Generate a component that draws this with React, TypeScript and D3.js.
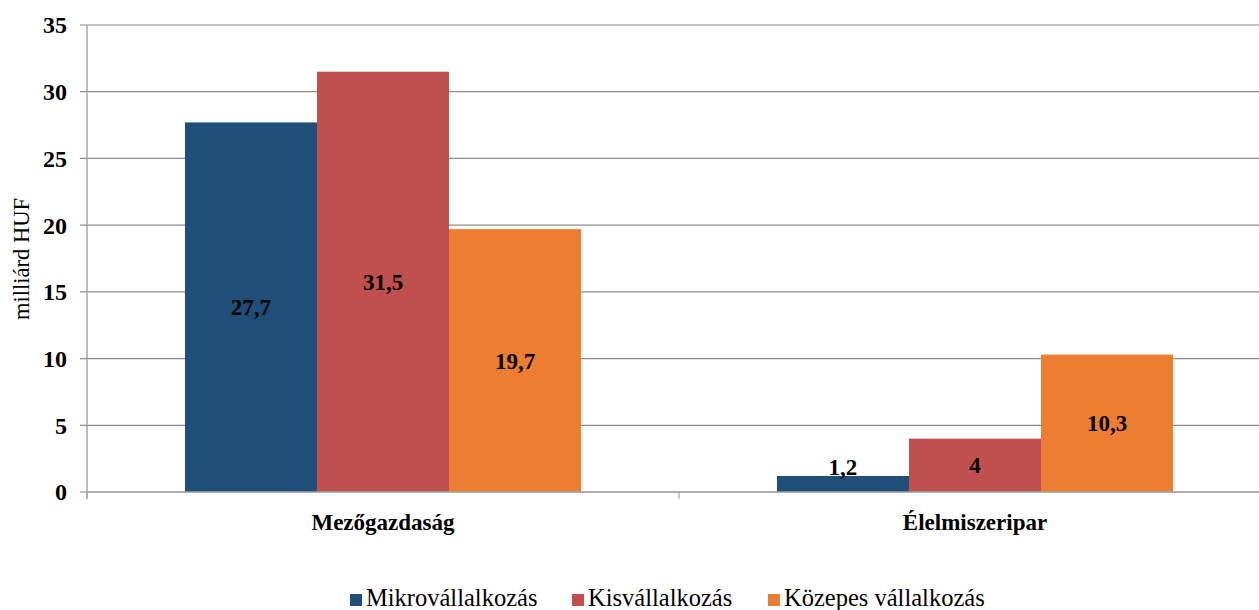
import React from "react";
import * as d3 from "d3";

const categories = ["Mezőgazdaság", "Élelmiszeripar"];
const seriesNames = ["Mikrovállalkozás", "Kisvállalkozás", "Közepes vállalkozás"];
const mikro = [27.7, 1.2];
const kis = [31.5, 4];
const kozepes = [19.7, 10.3];
const yTicks = [0, 5, 10, 15, 20, 25, 30, 35];
const colors = ["#1F4E79", "#C0504D", "#ED7D31"];

const W = 1259, H = 610;
const left = 87, right = 1271, top = 25, bottom = 492;
const FONT = "'Liberation Serif', 'Times New Roman', serif";

export default function App() {
  const values = [mikro, kis, kozepes];
  const x0 = d3.scaleBand<string>().domain(categories).range([left, right]).padding(0);
  const bw = x0.bandwidth();
  const x1 = d3.scaleBand<string>().domain(seriesNames).range([bw * 0.1655, bw * 0.8345]).padding(0);
  const y = d3.scaleLinear().domain([0, 35]).range([bottom, top]);
  const fmt = (v: number) => String(v).replace(".", ",");
  const legendX = [350, 572, 768];

  return (
    <svg width={W} height={H} style={{ position: "absolute", left: 0, top: 0, background: "#fff" }} fontFamily={FONT}>
      {yTicks.map((t) => (
        <g key={t}>
          <line x1={left - 7} x2={right} y1={y(t)} y2={y(t)} stroke="#8c8c8c" strokeWidth={1.2} />
          <text x={67} y={y(t)} dy="0.35em" textAnchor="end" fontSize={24} fontWeight="bold">{t}</text>
        </g>
      ))}
      <line x1={left} x2={left} y1={top} y2={bottom + 7} stroke="#a6a6a6" strokeWidth={1.5} />
      {[left, left + bw, right].map((xx, i) => (
        <line key={i} x1={xx} x2={xx} y1={bottom} y2={bottom + 7} stroke="#a6a6a6" strokeWidth={1.2} />
      ))}
      {categories.map((c, ci) => (
        <g key={c}>
          {seriesNames.map((s, si) => {
            const v = values[si][ci];
            const bx = (x0(c) as number) + (x1(s) as number);
            return (
              <rect key={s} x={bx} y={y(v)} width={x1.bandwidth()} height={bottom - y(v)} fill={colors[si]} />
            );
          })}
        </g>
      ))}
      <line x1={left} x2={right} y1={bottom} y2={bottom} stroke="#a6a6a6" strokeWidth={1.5} />
      {categories.map((c, ci) => (
        <g key={c + "l"}>
          {seriesNames.map((s, si) => {
            const v = values[si][ci];
            const bx = (x0(c) as number) + (x1(s) as number);
            const cy = Math.min((y(v) + bottom) / 2, bottom - 25);
            return (
              <text key={s} x={bx + x1.bandwidth() / 2} y={cy} dy="0.35em" textAnchor="middle" fontSize={23} fontWeight="bold">
                {fmt(v)}
              </text>
            );
          })}
          <text x={(x0(c) as number) + bw / 2} y={530} textAnchor="middle" fontSize={23} fontWeight="bold">{c}</text>
        </g>
      ))}
      <text transform={`translate(29,259) rotate(-90)`} textAnchor="middle" fontSize={22.5}>milliárd HUF</text>
      {seriesNames.map((s, i) => (
        <g key={s}>
          <rect x={legendX[i]} y={594} width={12} height={12} fill={colors[i]} />
          <text x={legendX[i] + 16} y={606} fontSize={24.5}>{s}</text>
        </g>
      ))}
    </svg>
  );
}
